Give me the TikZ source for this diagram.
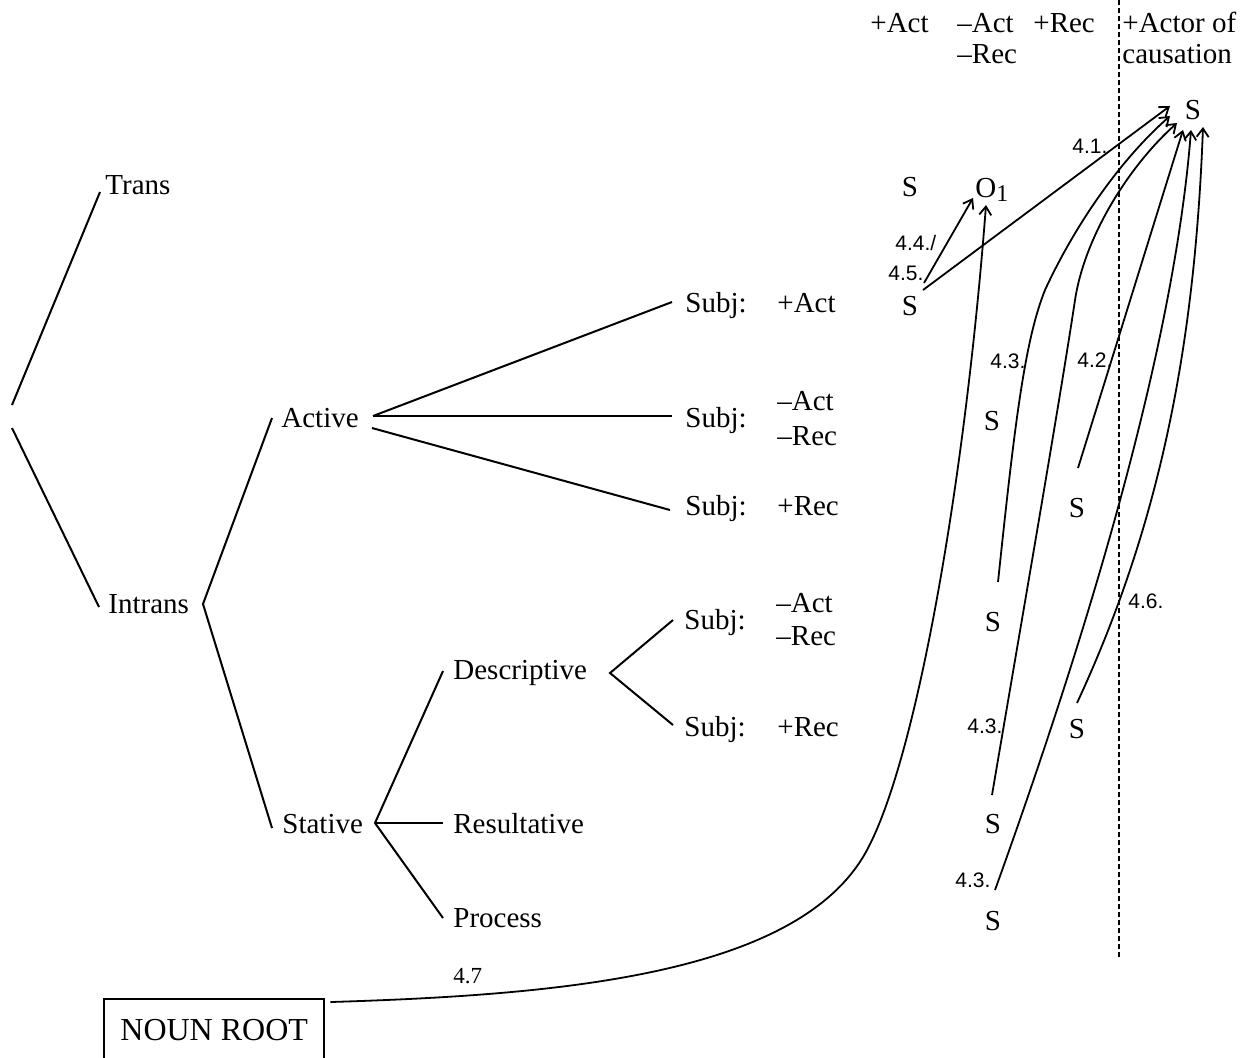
\documentclass[tikz,border=0pt]{standalone}
\usepackage{fontspec}
\setmainfont{Liberation Serif}
\newfontfamily\lblfont{Liberation Sans}
\usetikzlibrary{arrows.meta,calc}
\begin{document}
\begin{tikzpicture}[x=0.5pt,y=-0.5pt,
  txt/.style={anchor=base west,inner sep=0pt,font=\fontsize{14.5}{17}\selectfont},
  ess/.style={anchor=base,inner sep=0pt,font=\fontsize{14.5}{17}\selectfont},
  lbl/.style={anchor=base west,inner sep=0pt,font=\lblfont\fontsize{10.5}{12}\selectfont},
  branch/.style={line width=1pt},
  arr/.style={line width=0.9pt,-{Straight Barb[length=4.2pt,width=6pt]}},
  ]
\clip (0,0) rectangle (1252,1057);
% header
\node[txt] (hAct) at (870,32) {+Act};
\node[txt] (hNAct) at (957,32) {–Act};
\node[txt] (hNRec) at (957,63) {–Rec};
\node[txt] (hRec) at (1033,32) {+Rec};
\node[txt] (hActor) at (1122,32) {+Actor of};
\node[txt] (hCaus) at (1122,63) {causation};
\draw[line width=0.65pt,dash pattern=on 2.5pt off 1.5pt] (1119,0) coordinate (dtop) -- (1119,958) coordinate (dbot);
% tree
\coordinate (root) at (12,416);
\node[txt] (trans) at (105,194) {Trans};
\node[txt] (intrans) at (108,613) {Intrans};
\node[txt] (active) at (281,427) {Active};
\node[txt] (stative) at (282,833) {Stative};
\node[txt] (desc) at (453,679) {Descriptive};
\node[txt] (result) at (453,833) {Resultative};
\node[txt] (process) at (453,927) {Process};
\node[txt] (subj1) at (685,312) {Subj:};
\node[txt] (v1) at (777,312) {+Act};
\node[txt] (subj2) at (685,427) {Subj:};
\node[txt] (v2a) at (777,410) {–Act};
\node[txt] (v2b) at (777,445) {–Rec};
\node[txt] (subj3) at (685,515) {Subj:};
\node[txt] (v3) at (777,515) {+Rec};
\node[txt] (subj4) at (684,629) {Subj:};
\node[txt] (v4a) at (776,612) {–Act};
\node[txt] (v4b) at (776,645) {–Rec};
\node[txt] (subj5) at (684,736) {Subj:};
\node[txt] (v5) at (777,736) {+Rec};
\coordinate (vI) at (203,604);
\coordinate (vA) at (373,416);
\coordinate (vS) at (375,823);
\coordinate (vD) at (610,673);
\draw[branch] ($(root)+(0,-11)$) -- ($(trans.base west)+(-5,-2)$);
\draw[branch] ($(root)+(0,12)$) -- ($(intrans.base west)+(-9,-6)$);
\draw[branch] ($(active.base west)+(-9,-9)$) -- (vI) -- ($(stative.base west)+(-10,-5)$);
\draw[branch] (vA) -- ($(subj1.base west)+(-13,-10)$);
\draw[branch] (vA) -- ($(subj2.base west)+(-13,-11)$);
\draw[branch] ($(vA)+(-1,12)$) -- ($(subj3.base west)+(-15,-5)$);
\draw[branch] ($(desc.base west)+(-10,-8)$) -- (vS) -- ($(process.base west)+(-10,-9)$);
\draw[branch] (vS) -- ($(result.base west)+(-10,-10)$);
\draw[branch] ($(subj4.base west)+(-11,-9)$) -- (vD) -- ($(subj5.base west)+(-11,-11)$);
% S nodes
\node[ess] (sTop) at (1193,119) {S};
\node[ess] (sA) at (910,196) {S};
\node[txt] (o1) at (975,197) {O\raisebox{-2.2pt}{\fontsize{12}{12}\selectfont 1}};
\node[ess] (sB) at (910,315) {S};
\node[ess] (sC) at (992,430) {S};
\node[ess] (sD) at (1077,517) {S};
\node[ess] (sE) at (993,631) {S};
\node[ess] (sF) at (1077,738) {S};
\node[ess] (sG) at (993,833) {S};
\node[ess] (sH) at (993,930) {S};
% noun root
\node[draw,line width=1.2pt,anchor=north west,inner sep=0pt,minimum width=110pt,minimum height=31pt,font=\fontsize{16}{19}\selectfont] (noun) at (103,998) {NOUN ROOT};
% arrows
\draw[arr] ($(sB.base)+(13,-25)$) -- ($(sTop.base)+(-23,-13)$);
\draw[arr] ($(sB.base)+(14,-32)$) -- ($(o1.base west)+(-2,1)$);
\draw[arr] ($(noun.north east)+(5,4)$) .. controls (560,995) and (800,975) .. (867,850)
  .. controls (917,757) and (965,480) .. ($(o1.base west)+(11,8)$);
\draw[arr] ($(sE.base)+(5,-49)$) .. controls (1015,420) and (1025,340) .. (1045,290)
  .. controls (1075,225) and (1120,160) .. ($(sTop.base)+(-23,-3)$);
\draw[arr] ($(sG.base)+(-1,-38)$) .. controls (1020,630) and (1060,400) .. (1075,300)
  .. controls (1085,235) and (1130,165) .. ($(sTop.base)+(-16,4)$);
\draw[arr] ($(sD.base)+(1,-49)$) -- ($(sTop.base)+(-10,11)$);
\draw[arr] ($(sH.base)+(2,-40)$) .. controls (1085,640) and (1174,350) .. ($(sTop.base)+(-2,11)$);
\draw[arr] ($(sF.base)+(0,-35)$) .. controls (1162,520) and (1195,340) .. ($(sTop.base)+(10,8)$);
% labels
\node[lbl] (l41) at (1072,153) {4.1.};
\node[lbl] (l44) at (895,250) {4.4./};
\node[lbl] (l45) at (888,280) {4.5.};
\node[lbl] (l43a) at (990,368) {4.3.};
\node[lbl] (l42) at (1077,367) {4.2.};
\node[lbl] (l46) at (1128,608) {4.6.};
\node[lbl] (l43b) at (967,733) {4.3.};
\node[lbl] (l43c) at (955,887) {4.3.};
\node[anchor=base west,inner sep=0pt,font=\fontsize{11.5}{13}\selectfont] (l47) at (453,983) {4.7};
\end{tikzpicture}
\end{document}
